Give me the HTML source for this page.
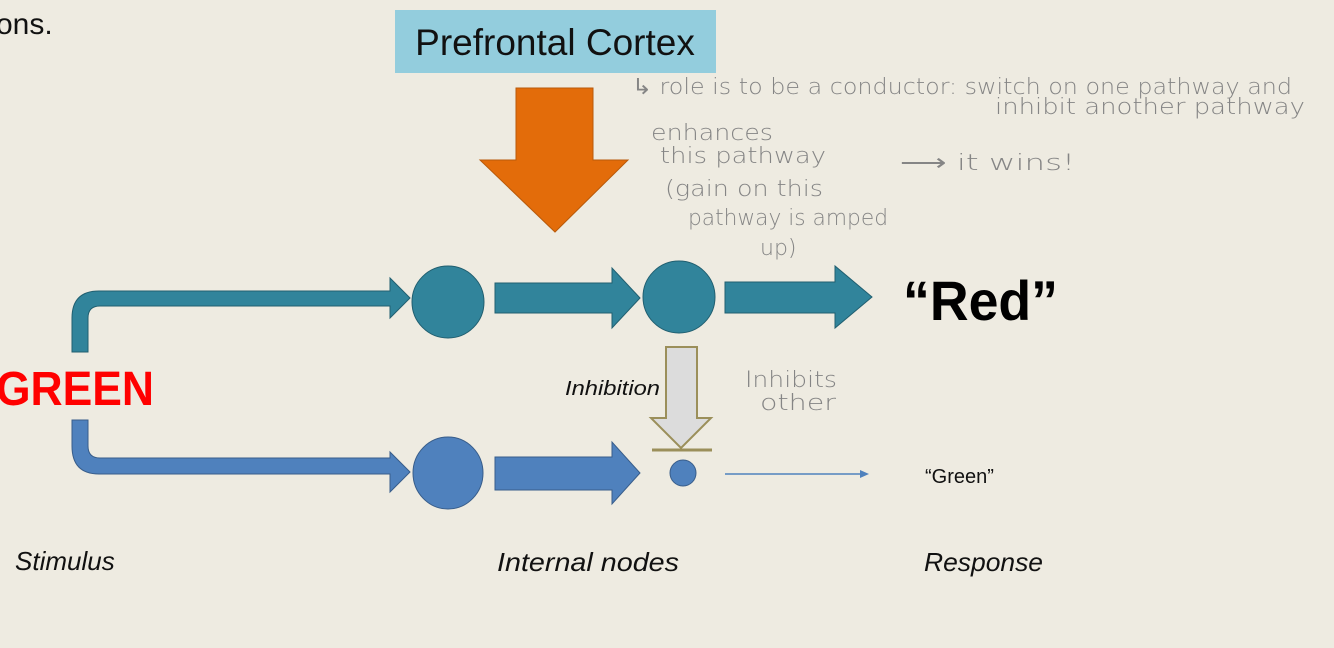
<!DOCTYPE html>
<html><head><meta charset="utf-8"><style>
body{margin:0;width:1334px;height:648px;overflow:hidden;background:#eeebe1;}
svg{position:absolute;left:0;top:0}
</style></head><body>
<svg width="1334" height="648" viewBox="0 0 1334 648" xmlns="http://www.w3.org/2000/svg" font-family="Liberation Sans, sans-serif">
<text x="-4" y="34" font-size="30" fill="#111">ons.</text>
<rect x="395" y="10" width="321" height="63" fill="#93cddd"/>
<text x="555" y="55" font-size="37" fill="#111" text-anchor="middle">Prefrontal Cortex</text>
<polygon points="516,88 593,88 593,160 628,160 555,232 480,160 516,160" fill="#e36c0a" stroke="#b85a0a" stroke-width="1"/>
<path d="M72,352 V318 Q72,291 99,291 H390 V278 L410,298 L390,318 V306 H100 Q88,306 88,318 V352 Z" fill="#31849b" stroke="#215f70" stroke-width="1"/>
<ellipse cx="448" cy="302" rx="36" ry="36" fill="#31849b" stroke="#215f70"/>
<polygon points="495,283 612,283 612,268 640,298 612,328 612,313 495,313" fill="#31849b" stroke="#215f70"/>
<ellipse cx="679" cy="297" rx="36" ry="36" fill="#31849b" stroke="#215f70"/>
<polygon points="725,282 835,282 835,266 872,297 835,328 835,313 725,313" fill="#31849b" stroke="#215f70"/>
<path d="M72,420 V446 Q72,474 99,474 H390 V492 L410,472 L390,452 V458 H100 Q88,458 88,446 V420 Z" fill="#4f81bd" stroke="#385d8a" stroke-width="1"/>
<ellipse cx="448" cy="473" rx="35" ry="36" fill="#4f81bd" stroke="#385d8a"/>
<polygon points="495,457 612,457 612,442 640,473 612,504 612,490 495,490" fill="#4f81bd" stroke="#385d8a"/>
<circle cx="683" cy="473" r="13" fill="#4f81bd" stroke="#385d8a"/>
<line x1="725" y1="474" x2="862" y2="474" stroke="#4f81bd" stroke-width="1.5"/>
<polygon points="860,470 869,474 860,478" fill="#4f81bd"/>
<polygon points="666,347 697,347 697,418 711,418 681,448 651,418 666,418" fill="#dcdcdc" stroke="#9b8f5a" stroke-width="2"/>
<line x1="652" y1="450" x2="712" y2="450" stroke="#9b8f5a" stroke-width="3"/>
<text x="565" y="395" font-size="20" font-style="italic" fill="#111" textLength="95" lengthAdjust="spacingAndGlyphs">Inhibition</text>
<text x="-4" y="405" font-size="48" font-weight="bold" fill="#ff0000" textLength="158" lengthAdjust="spacingAndGlyphs">GREEN</text>
<text x="903" y="320" font-size="56" font-weight="bold" fill="#000" textLength="155" lengthAdjust="spacingAndGlyphs">“Red”</text>
<text x="925" y="483" font-size="20" fill="#111">“Green”</text>
<text x="15" y="570" font-size="26" font-style="italic" fill="#111">Stimulus</text>
<text x="497" y="571" font-size="26" font-style="italic" fill="#111" textLength="182" lengthAdjust="spacingAndGlyphs">Internal nodes</text>
<text x="924" y="571" font-size="26" font-style="italic" fill="#111" textLength="119" lengthAdjust="spacingAndGlyphs">Response</text>
<g fill="#858585" font-size="22" font-family="DejaVu Sans, sans-serif" font-weight="200">
<text x="632" y="94" textLength="660" lengthAdjust="spacingAndGlyphs">↳ role is to be a conductor: switch on one pathway and</text>
<text x="995" y="114" textLength="310" lengthAdjust="spacingAndGlyphs">inhibit another pathway</text>
<text x="651" y="140" textLength="122" lengthAdjust="spacingAndGlyphs">enhances</text>
<text x="660" y="163" textLength="166" lengthAdjust="spacingAndGlyphs">this pathway</text>
<text x="665" y="196" textLength="158" lengthAdjust="spacingAndGlyphs">(gain on this</text>
<text x="688" y="225" textLength="200" lengthAdjust="spacingAndGlyphs">pathway is amped</text>
<text x="760" y="255">up)</text>
<text x="900" y="170" textLength="175" lengthAdjust="spacingAndGlyphs">⟶ it wins!</text>
<text x="745" y="387" textLength="92" lengthAdjust="spacingAndGlyphs">Inhibits</text>
<text x="760" y="410" textLength="76" lengthAdjust="spacingAndGlyphs">other</text>
</g>
</svg>
</body></html>
